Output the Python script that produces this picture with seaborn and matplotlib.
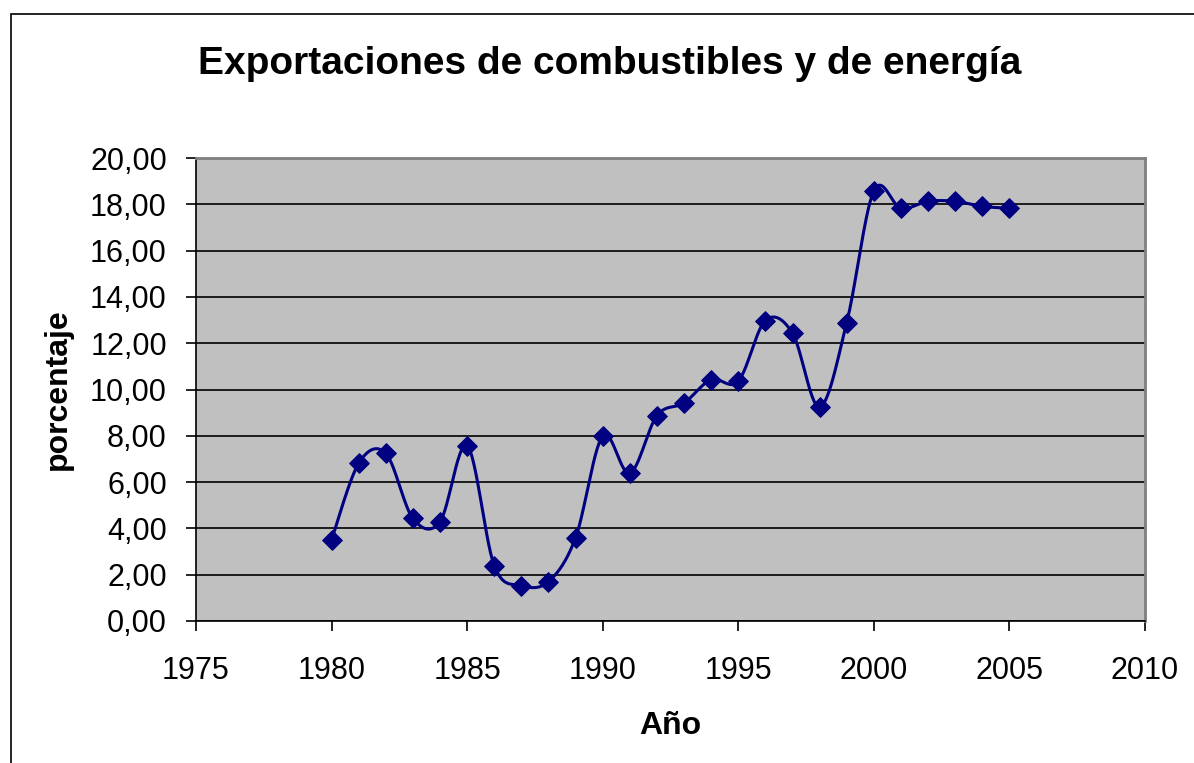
import numpy as np
import pandas as pd
import matplotlib
matplotlib.use("Agg")
import matplotlib.pyplot as plt
from matplotlib.patches import Rectangle
from matplotlib.ticker import FuncFormatter, MultipleLocator
import seaborn as sns

# Data
years = [1980, 1981, 1982, 1983, 1984, 1985, 1986, 1987, 1988, 1989,
         1990, 1991, 1992, 1993, 1994, 1995, 1996, 1997, 1998, 1999,
         2000, 2001, 2002, 2003, 2004, 2005]
percent = [3.50, 6.81, 7.24, 4.43, 4.29, 7.57, 2.39, 1.53, 1.70, 3.60,
           7.99, 6.38, 8.87, 9.42, 10.43, 10.36, 12.98, 12.43, 9.24, 12.89,
           18.58, 17.83, 18.13, 18.13, 17.91, 17.83]

title = "Exportaciones de combustibles y de energía"
x_label = "Año"
y_label = "porcentaje"

df = pd.DataFrame({"year": years, "pct": percent})


def smooth_curve(x, y, steps=30):
    """Catmull-Rom style smoothing, similar to Excel's smoothed line."""
    x = np.asarray(x, float)
    y = np.asarray(y, float)
    px = np.concatenate([[x[0]], x, [x[-1]]])
    py = np.concatenate([[y[0]], y, [y[-1]]])
    out_x, out_y = [], []
    t = np.linspace(0, 1, steps)
    for i in range(1, len(px) - 2):
        p0, p1, p2, p3 = (np.array([px[j], py[j]]) for j in range(i - 1, i + 3))
        c1 = p1 + (p2 - p0) / 6
        c2 = p2 - (p3 - p1) / 6
        b = ((1 - t) ** 3)[:, None] * p1 + (3 * (1 - t) ** 2 * t)[:, None] * c1 \
            + (3 * (1 - t) * t ** 2)[:, None] * c2 + (t ** 3)[:, None] * p2
        out_x.extend(b[:, 0])
        out_y.extend(b[:, 1])
    return np.array(out_x), np.array(out_y)


sns.set_style("white")
plt.rcParams["font.family"] = ["Liberation Sans", "DejaVu Sans"]
plt.rcParams["text.color"] = "black"
plt.rcParams["axes.labelcolor"] = "black"
plt.rcParams["xtick.color"] = "black"
plt.rcParams["ytick.color"] = "black"

fig = plt.figure(figsize=(11.94, 7.63), dpi=100)
ax = fig.add_axes([196 / 1194, 1 - 621 / 763, (1145 - 196) / 1194, (621 - 158) / 763])
ax.set_facecolor("#C0C0C0")

# outer chart border
fig.patches.append(Rectangle((11 / 1194, -0.05), 1.2, 1 - 14 / 763 + 0.05,
                             transform=fig.transFigure, fill=False,
                             edgecolor="black", linewidth=1.2))

sx, sy = smooth_curve(df["year"], df["pct"])
ax.plot(sx, sy, color="#000080", linewidth=2.2, zorder=3)
sns.scatterplot(data=df, x="year", y="pct", marker="D", s=100, color="#000080",
                edgecolor="#000080", ax=ax, zorder=4, legend=False)

ax.set_xlim(1975, 2010)
ax.set_ylim(0, 20)
ax.xaxis.set_major_locator(MultipleLocator(5))
ax.yaxis.set_major_locator(MultipleLocator(2))
ax.yaxis.set_major_formatter(FuncFormatter(lambda v, p: f"{v:.2f}".replace(".", ",")))
ax.grid(axis="y", color="black", linewidth=1.2)
ax.grid(axis="x", visible=False)
ax.set_axisbelow(True)

for side in ["top", "right"]:
    ax.spines[side].set_color("#808080")
    ax.spines[side].set_linewidth(2)
for side in ["left", "bottom"]:
    ax.spines[side].set_color("black")
    ax.spines[side].set_linewidth(1.2)

ax.tick_params(axis="both", direction="out", length=7, width=1.2, color="black",
               labelsize=22, bottom=True, left=True)
ax.tick_params(axis="x", pad=18)
ax.tick_params(axis="y", pad=14)

ax.set_xlabel(x_label, fontsize=23, fontweight="bold", labelpad=18)
ax.set_ylabel(y_label, fontsize=23, fontweight="bold", labelpad=12)
fig.text(0.511, 1 - 64 / 763, title, ha="center", va="center",
         fontsize=28, fontweight="bold")

fig.savefig("out.png", dpi=100)
